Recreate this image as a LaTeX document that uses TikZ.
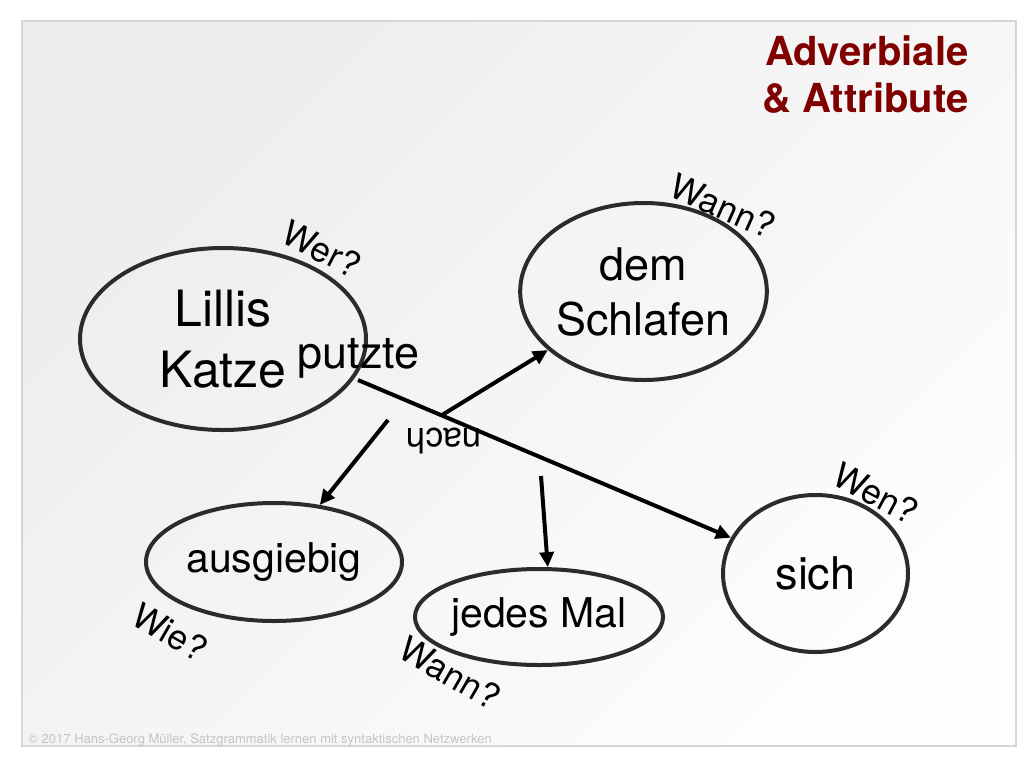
\documentclass[tikz,border=0pt]{standalone}
\usepackage{fontspec}
\setmainfont{TeX Gyre Heros}
\usetikzlibrary{shapes.geometric,arrows.meta}
\definecolor{titlered}{HTML}{800000}
\definecolor{framegray}{HTML}{D6D6D6}
\definecolor{bgA}{HTML}{EDEDED}
\definecolor{bgB}{HTML}{FDFDFD}
\definecolor{ringgray}{HTML}{2B2B2B}
\definecolor{footgray}{HTML}{C4C4C4}
\begin{document}
\begin{tikzpicture}[x=1pt,y=-1pt,
  ring/.style={ellipse, draw=ringgray, line width=4pt, inner sep=0pt, align=center},
  conn/.style={draw=black, line width=4pt, -{Triangle[length=15pt,width=14pt]}},
  qlabel/.style={font=\fontsize{35}{40}\selectfont},
  titletext/.style={anchor=base east, text=titlered, font=\bfseries\fontsize{40}{47}\selectfont},
  big/.style={font=\fontsize{45}{55}\selectfont},
  mid/.style={font=\fontsize{41}{49}\selectfont}
]
\useasboundingbox (0,0) rectangle (1024,768);
\fill[white] (0,0) rectangle (1024,768);
\shade[top color=bgA, bottom color=bgB, shading angle=45] (22,21) rectangle (1016,746);
\draw[framegray, line width=1.5pt] (22,21) rectangle (1016,746);

% title
\node[titletext] (t1) at (972,65) {Adverbiale};
\node[titletext] (t2) at (972,112) {\& Attribute};

% ellipses
\node[ring, minimum width=286pt, minimum height=182pt, font=\fontsize{50}{61}\selectfont] (lk) at (223,339) {Lillis\\Katze};
\node[ring, big, minimum width=237pt, minimum height=177pt] (ds) at (643.5,291.5) {dem\\Schlafen};
\node[ring, mid, minimum width=256pt, minimum height=118pt] (au) at (274,562) {ausgiebig};
\node[ring, mid, minimum width=246pt, minimum height=96pt] (jm) at (539,617) {jedes Mal};
\node[ring, big, minimum width=185pt, minimum height=157pt] (si) at (815.5,573.5) {sich};

% verb
\node[big, anchor=base] (pz) at (358.5,368) {putzte};

% connector start points
\coordinate (s0) at (358,380);
\coordinate (s1) at (442,415);
\coordinate (s2) at (388,420);
\coordinate (s3) at (541,476);

\draw[conn] (s0) -- (si);
\draw[conn] (s1) -- (ds);
\draw[conn] (s2) -- (au);
\draw[conn] (s3) -- (jm.80);

% question labels
\node[qlabel, rotate=-27] (qwer) at (322,249) {Wer?};
\node[qlabel, rotate=-24] (qwann1) at (723,206) {Wann?};
\node[qlabel, rotate=-28] (qwen) at (876,493) {Wen?};
\node[qlabel, rotate=-30] (qwie) at (170,632) {Wie?};
\node[qlabel, rotate=-30] (qwann2) at (450,673) {Wann?};
\node[qlabel, rotate=180] (nach) at (444,441) {nach};

% footer
\node[anchor=base west, text=footgray, font=\fontsize{13}{15}\selectfont] (foot) at (25,743) {© 2017 Hans-Georg Müller, Satzgrammatik lernen mit syntaktischen Netzwerken};
\end{tikzpicture}
\end{document}
